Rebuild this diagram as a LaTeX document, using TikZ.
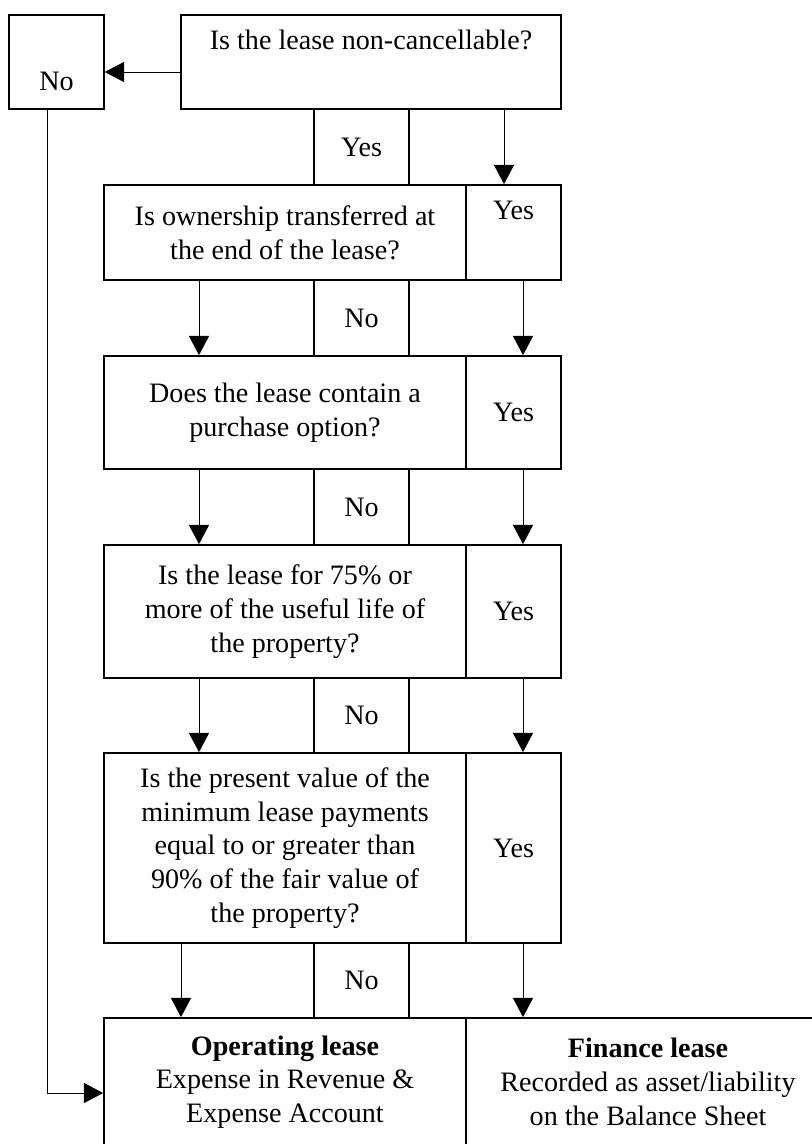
\documentclass[tikz,border=0pt]{standalone}
\usepackage{fontspec}
\setmainfont{Liberation Serif}
\usetikzlibrary{arrows.meta}

\begin{document}
\begin{tikzpicture}[
    box/.style={draw, line width=1.2pt, inner sep=0pt, align=center, font=\fontsize{20}{24}\selectfont},
    tag/.style={box, minimum width=2.375cm, minimum height=1.9cm},
    quest/.style={box, minimum width=9.05cm},
    side/.style={box, minimum width=2.375cm},
    arr/.style={-{Triangle[length=0.48cm,width=0.5cm]}, line width=0.7pt}
  ]
  \clip (0,0) rectangle (20.3,-28.6);

  \node[box, minimum width=2.375cm, minimum height=2.35cm] (no) at (1.4125,-1.55) {\strut\\No};
  \node[box, minimum width=9.5cm, minimum height=2.35cm] (q1) at (9.275,-1.55) {Is the lease non-cancellable?\\\strut};
  \node[tag] (t1) at (9.0375,-3.675) {Yes};

  \node[quest, minimum height=2.375cm] (q2) at (7.125,-5.8125) {Is ownership transferred at\\the end of the lease?};
  \node[side, minimum height=2.375cm] (y2) at (12.8375,-5.8125) {Yes\\\strut};
  \node[tag] (t2) at (9.0375,-7.95) {No};

  \node[quest, minimum height=2.825cm] (q3) at (7.125,-10.3125) {Does the lease contain a\\purchase option?};
  \node[side, minimum height=2.825cm] (y3) at (12.8375,-10.3125) {Yes};
  \node[tag] (t3) at (9.0375,-12.675) {No};

  \node[quest, minimum height=3.325cm] (q4) at (7.125,-15.2875) {Is the lease for 75\% or\\more of the useful life of\\the property?};
  \node[side, minimum height=3.325cm] (y4) at (12.8375,-15.2875) {Yes};
  \node[tag, minimum height=1.875cm] (t4) at (9.0375,-17.8875) {No};

  \node[quest, minimum height=4.75cm] (q5) at (7.125,-21.2) {Is the present value of the\\minimum lease payments\\equal to or greater than\\90\% of the fair value of\\the property?};
  \node[side, minimum height=4.75cm] (y5) at (12.8375,-21.2) {Yes};
  \node[tag, minimum height=1.875cm] (t5) at (9.0375,-24.5125) {No};

  \node[quest, minimum height=3.2cm] (op) at (7.125,-27.05) {\textbf{Operating lease}\\Expense in Revenue \&\\Expense Account};
  \node[box, minimum width=9.1cm, minimum height=3.2cm] (fin) at (16.2,-27.05) {\textbf{Finance lease}\\Recorded as asset/liability\\on the Balance Sheet};

  \draw[arr] (q1.west |- 0,-1.8) -- (no.east |- 0,-1.8); % not non-cancellable
  \draw[arr] (q1.south -| 12.6,0) -- (y2.north -| 12.6,0);
  \draw[arr] (q2.south -| 4.975,0) -- (q3.north -| 4.975,0);
  \draw[arr] (y2.south -| 13.075,0) -- (y3.north -| 13.075,0);
  \draw[arr] (q3.south -| 4.975,0) -- (q4.north -| 4.975,0);
  \draw[arr] (y3.south -| 13.075,0) -- (y4.north -| 13.075,0);
  \draw[arr] (q4.south -| 4.975,0) -- (q5.north -| 4.975,0);
  \draw[arr] (y4.south -| 13.075,0) -- (y5.north -| 13.075,0);
  \draw[arr] (q5.south -| 4.525,0) -- (op.north -| 4.525,0);
  \draw[arr] (y5.south -| 13.075,0) -- (fin.north -| 13.075,0);
  \draw[arr] (no.south -| 1.175,0) |- (op.west |- 0,-27.325); % straight to operating lease
\end{tikzpicture}
\end{document}
